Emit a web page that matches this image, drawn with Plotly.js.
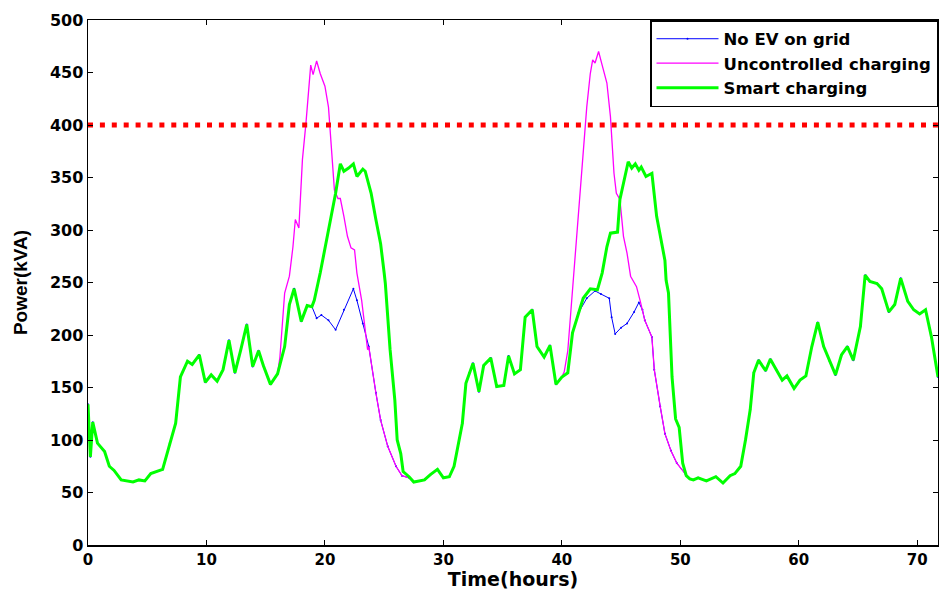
<!DOCTYPE html>
<html>
<head>
<meta charset="utf-8">
<script src="https://cdn.plot.ly/plotly-3.0.1.min.js"></script>
<style>html,body{margin:0;padding:0;background:#fff;}#chart{width:939px;height:590px;}</style>
</head>
<body>
<div id="chart"></div>
<script>
// Base load without EVs (hours, kVA)
var baseTime = [0,0.2,0.4,0.8,1.4,1.8,2.2,2.8,3.8,4.3,4.8,5.3,6.3,6.9,7.4,7.8,8.4,8.8,9.4,9.9,10.4,10.9,11.4,11.9,12.4,12.9,13.4,13.9,14.4,14.8,15.4,16.0,16.6,17.0,17.4,18.0,18.5,18.9,19.3,19.7,20.3,20.9,21.6,22.4,22.7,23.2,23.7,24.3,24.7,25.3,26.0,26.5,27.1,27.5,28.4,28.9,29.5,30.0,30.5,30.9,31.3,31.6,31.9,32.2,32.5,33.0,33.4,34.0,34.5,35.1,35.5,36.0,36.5,36.9,37.5,37.9,38.5,39.0,39.5,40.0,40.5,40.9,41.4,42.1,42.8,43.3,44.0,44.2,44.5,45.0,45.5,46.1,46.5,46.8,47.0,47.6,47.8,48.3,48.7,49.2,49.7,50.4,50.8,51.1,51.5,52.2,53.0,53.6,54.2,54.6,55.1,55.5,55.9,56.2,56.6,57.2,57.6,58.1,58.6,59.0,59.6,60.1,60.6,61.1,61.6,62.1,62.6,63.1,63.6,64.1,64.6,65.2,65.6,66.0,66.6,67.0,67.6,68.1,68.6,69.2,69.7,70.2,70.7,71.2,71.75];
var basePower = [134,84,117,97,89,75,71,62,60,62,61,68,72,97,116,160,175,172,181,155,162,156,167,195,164,186,210,170,185,171,153,163,189,229,244,213,228,227,216,219,214,205,224,244,233,211,189,145,119,94,75,66,64,60,62,67,72,64,65,75,97,116,154,164,173,146,171,178,151,152,180,163,167,217,224,189,179,190,153,160,164,202,221,235,242,239,235,217,201,207,211,222,231,224,214,198,167,132,106,90,78,68,63,62,64,61,65,59,66,68,75,100,129,164,176,166,177,167,157,161,149,157,161,189,212,189,175,162,181,189,176,208,257,251,249,244,222,229,254,232,224,220,224,198,160];

// Uncontrolled charging: deviations from base during the two evening peaks
var uncTime1 = [16.2,16.6,17.0,17.3,17.5,17.8,18.1,18.4,18.8,19.0,19.3,19.6,20.0,20.3,20.5,20.8,21.1,21.3,21.6,21.9,22.2,22.5,22.7,23.1,23.6];
var uncPower1 = [179,240,256,284,310,302,367,402,457,448,461,449,437,417,386,338,330,330,313,294,283,281,259,233,186];
var uncTime2 = [40.2,40.5,40.8,41.2,41.5,41.8,42.1,42.4,42.6,42.8,43.1,43.4,43.8,44.1,44.4,44.6,44.9,45.2,45.5,45.8,46.3,46.6];
var uncPower2 = [165,185,230,290,335,379,417,449,462,459,470,457,440,408,354,335,329,294,278,256,246,233];

// Smart charging: deviations from base
var smartTime1 = [18.9,19.1,19.6,20.1,20.5,20.9,21.3,21.6,22.0,22.4,22.7,23.2,23.4,23.9,24.3,24.7,25.0,25.1,25.5,25.9,26.1,26.4,26.6,27.1];
var smartPower1 = [227,233,259,287,310,335,363,356,359,363,351,358,356,335,310,287,259,249,186,138,100,87,70,65];
var smartTime2 = [41.8,42.4,43.0,43.4,43.8,44.1,44.7,44.9,45.3,45.6,45.9,46.2,46.5,46.7,47.1,47.6,48.0,48.7,48.8,49.0,49.3,49.6,49.9,50.2,50.5,50.8];
var smartPower2 = [235,244,243,259,284,297,298,329,348,365,359,363,357,360,351,354,313,271,252,240,160,120,112,78,66,63];

// Transformer limit
var limitTime = [0, 71.75];
var limitPower = [400, 400];

var seriesNames = ['No EV on grid', 'Uncontrolled charging', 'Smart charging'];
var xTicks = [0,10,20,30,40,50,60,70];
var yTicks = [0,50,100,150,200,250,300,350,400,450,500];

function splice(t, p, wt, wp) {
  var ot = [], op = [];
  var a = wt[0], b = wt[wt.length - 1];
  for (var i = 0; i < t.length; i++) if (t[i] < a) { ot.push(t[i]); op.push(p[i]); }
  for (var j = 0; j < wt.length; j++) { ot.push(wt[j]); op.push(wp[j]); }
  for (var k = 0; k < t.length; k++) if (t[k] > b) { ot.push(t[k]); op.push(p[k]); }
  return [ot, op];
}
var u1 = splice(baseTime, basePower, uncTime1, uncPower1);
var u = splice(u1[0], u1[1], uncTime2, uncPower2);
var s1 = splice(baseTime, basePower, smartTime1, smartPower1);
var s = splice(s1[0], s1[1], smartTime2, smartPower2);

var FW = '"DejaVu Sans", Verdana, sans-serif';
var FA = 'Arial, "Liberation Sans", sans-serif';
var traces = [
  {x: baseTime, y: basePower, name: seriesNames[0], mode: 'lines+markers',
   line: {color: '#0000ff', width: 1}, marker: {color: '#0000ff', size: 2}},
  {x: u[0], y: u[1], name: seriesNames[1], mode: 'lines',
   line: {color: '#ff00ff', width: 1.3}},
  {x: s[0], y: s[1], name: seriesNames[2], mode: 'lines',
   line: {color: '#00ff00', width: 3}},
  {x: limitTime, y: limitPower, mode: 'lines', showlegend: false, hoverinfo: 'skip',
   line: {color: '#ff0000', width: 5, dash: '5px,6.9px'}}
];

var layout = {
  width: 939, height: 590,
  margin: {l: 88, r: 1, t: 20, b: 45},
  paper_bgcolor: '#ffffff', plot_bgcolor: '#ffffff',
  font: {family: FW, color: '#000', size: 15, weight: 'bold'},
  showlegend: true,
  legend: {x: 1, y: 1, xanchor: 'right', yanchor: 'top', bgcolor: '#fff',
           bordercolor: '#000', borderwidth: 1.5,
           font: {family: FW, size: 16.5, weight: 'bold', color: '#000'},
           tracegroupgap: 0, itemwidth: 62},
  xaxis: {range: [0, 71.75], tickvals: xTicks, ticktext: xTicks.map(String),
          ticks: 'inside', ticklen: 5, tickcolor: '#000', showgrid: false, zeroline: false,
          showline: true, linecolor: '#000', linewidth: 1.5, mirror: 'ticks',
          tickfont: {family: FW, size: 15, weight: 'bold'},
          title: {text: 'Time(hours)', font: {family: FW, size: 19, weight: 'bold'}, standoff: 8}},
  yaxis: {range: [0, 500], tickvals: yTicks, ticktext: yTicks.map(String),
          ticks: 'inside', ticklen: 5, tickcolor: '#000', showgrid: false, zeroline: false,
          showline: true, linecolor: '#000', linewidth: 1.5, mirror: 'ticks',
          tickfont: {family: FW, size: 16, weight: 'bold'},
          title: {text: 'Power(kVA)', font: {family: FA, size: 19, weight: 'bold'}, standoff: 17}}
};

Plotly.newPlot('chart', traces, layout, {displayModeBar: false, staticPlot: true});
</script>
</body>
</html>
